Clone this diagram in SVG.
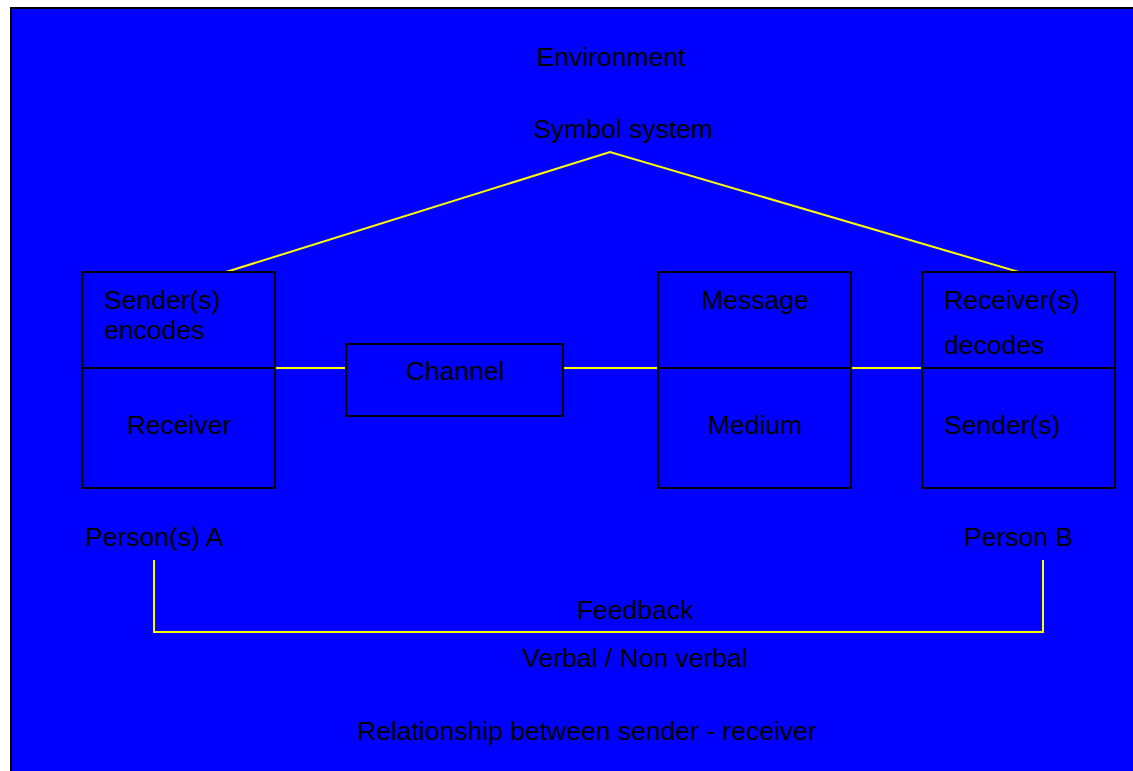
<svg xmlns="http://www.w3.org/2000/svg" width="1133" height="771" viewBox="0 0 1133 771">
  <style>
    .bg { fill: #0000ff; stroke: #000; stroke-width: 2; }
    .box { fill: none; stroke: #000; stroke-width: 2; }
    .link { fill: none; stroke: #ffff00; stroke-width: 2; }
    text { font-family: "Liberation Sans", Arial, sans-serif; font-size: 26.5px; fill: #000; }
    .c { text-anchor: middle; }
  </style>
  <rect x="0" y="0" width="1133" height="771" fill="#ffffff"/>
  <rect class="bg" x="11" y="8" width="1130" height="770"/>

  <g id="connectors">
    <polyline class="link" points="226,272 610,152 1019,272"/>
    <line class="link" x1="275" y1="368" x2="346" y2="368"/>
    <line class="link" x1="563" y1="368" x2="658" y2="368"/>
    <line class="link" x1="851" y1="368" x2="922" y2="368"/>
    <polyline class="link" points="154,560 154,632 1043,632 1043,560"/>
  </g>

  <g id="environment">
    <text class="c" x="611" y="66">Environment</text>
  </g>
  <g id="symbol-system">
    <text class="c" x="623" y="138">Symbol system</text>
  </g>

  <g id="person-a">
    <rect class="box" x="82" y="272" width="193" height="216"/>
    <line class="box" x1="82" y1="368" x2="275" y2="368"/>
    <text x="104" y="309">Sender(s)</text>
    <text x="104" y="339">encodes</text>
    <text class="c" x="179" y="434">Receiver</text>
  </g>

  <g id="channel">
    <rect class="box" x="346" y="344" width="217" height="72"/>
    <text class="c" x="455" y="380">Channel</text>
  </g>

  <g id="message">
    <rect class="box" x="658" y="272" width="193" height="216"/>
    <line class="box" x1="658" y1="368" x2="851" y2="368"/>
    <text class="c" x="755" y="309">Message</text>
    <text class="c" x="755" y="434">Medium</text>
  </g>

  <g id="person-b">
    <rect class="box" x="922" y="272" width="193" height="216"/>
    <line class="box" x1="922" y1="368" x2="1115" y2="368"/>
    <text x="944" y="309">Receiver(s)</text>
    <text x="944" y="354">decodes</text>
    <text x="944" y="434">Sender(s)</text>
  </g>

  <g id="labels">
    <text x="85" y="546">Person(s) A</text>
    <text x="964" y="546">Person B</text>
    <text class="c" x="635" y="619">Feedback</text>
    <text class="c" x="635" y="667">Verbal / Non verbal</text>
    <text x="357" y="740">Relationship between sender - receiver</text>
  </g>
</svg>
